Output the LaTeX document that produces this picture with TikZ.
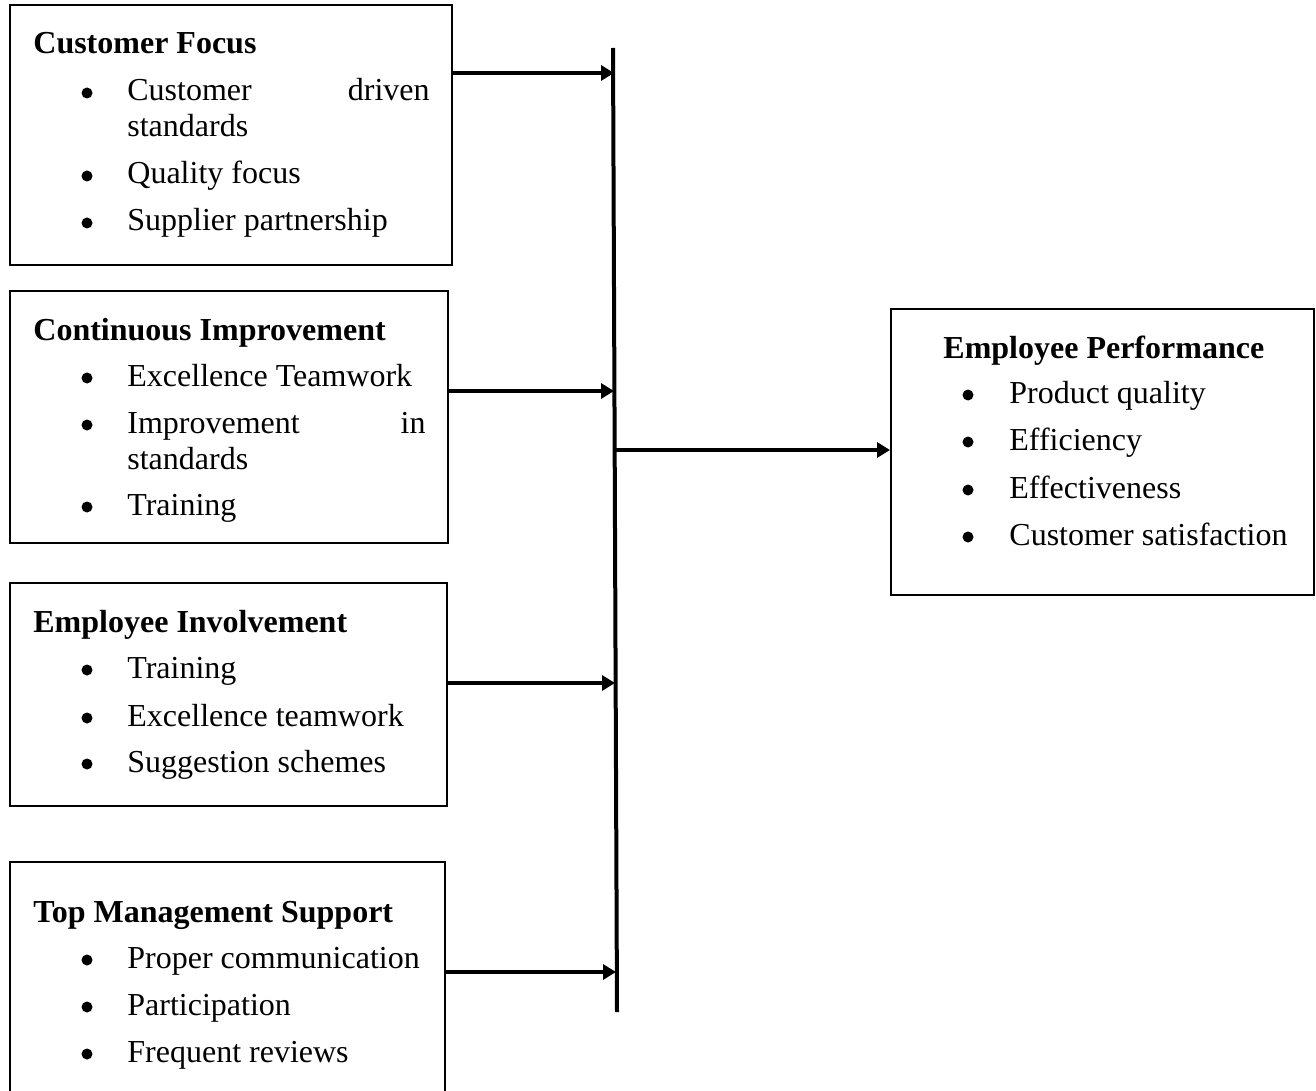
\documentclass[tikz,border=0pt]{standalone}
\usepackage{fontspec}
\setmainfont{Liberation Serif}
\usetikzlibrary{arrows.meta,fit}
\begin{document}
\begin{tikzpicture}[x=0.5pt,y=-0.5pt,
  box/.style={draw,line width=1pt,inner sep=0pt},
  ttl/.style={anchor=base west,inner sep=0pt,font=\fontsize{16}{19}\selectfont\bfseries},
  txt/.style={anchor=base west,inner sep=0pt,font=\fontsize{16}{19}\selectfont},
  txtr/.style={anchor=base east,inner sep=0pt,font=\fontsize{16}{19}\selectfont},
  dot/.style={circle,fill,inner sep=0pt,minimum size=5.5pt},
  bar/.style={line width=2pt},
  arr/.style={line width=2pt,-{Triangle[length=6.5pt,width=7.5pt]}}]
\useasboundingbox (0,0) rectangle (1316,1091);
\clip (0,0) rectangle (1316,1091);

% frames
\node[box,fit={(10,5) (452,265)}] (cf) {};
\node[box,fit={(10,291) (448,543)}] (ci) {};
\node[box,fit={(10,583) (447,806)}] (ei) {};
\node[box,fit={(10,862) (445,1120)}] (tm) {};
\node[box,fit={(891,309) (1314,595)}] (ep) {};

% Customer Focus
\node[ttl] (cft) at (33,54) {Customer Focus};
\node[dot] (cfd1) at (87,93) {};
\node[txt] (cf1a) at (127,101) {Customer};
\node[txtr] (cf1b) at (430,101) {driven};
\node[txt] (cf1c) at (127,137) {standards};
\node[dot] (cfd2) at (87,176) {};
\node[txt] (cf2) at (127,184) {Quality focus};
\node[dot] (cfd3) at (87,223) {};
\node[txt] (cf3) at (127,231) {Supplier partnership};

% Continuous Improvement
\node[ttl] (cit) at (33,340) {Continuous Improvement};
\node[dot] (cid1) at (87,378) {};
\node[txt] (ci1) at (127,386) {Excellence Teamwork};
\node[dot] (cid2) at (87,425) {};
\node[txt] (ci2a) at (127,433) {Improvement};
\node[txtr] (ci2b) at (426,433) {in};
\node[txt] (ci2c) at (127,469) {standards};
\node[dot] (cid3) at (87,507) {};
\node[txt] (ci3) at (127,515) {Training};

% Employee Involvement
\node[ttl] (eit) at (33,632) {Employee Involvement};
\node[dot] (eid1) at (87,670) {};
\node[txt] (ei1) at (127,678) {Training};
\node[dot] (eid2) at (87,718) {};
\node[txt] (ei2) at (127,726) {Excellence teamwork};
\node[dot] (eid3) at (87,764) {};
\node[txt] (ei3) at (127,772) {Suggestion schemes};

% Top Management Support
\node[ttl] (tmt) at (33,922) {Top Management Support};
\node[dot] (tmd1) at (87,960) {};
\node[txt] (tm1) at (127,968) {Proper communication};
\node[dot] (tmd2) at (87,1007) {};
\node[txt] (tm2) at (127,1015) {Participation};
\node[dot] (tmd3) at (87,1054) {};
\node[txt] (tm3) at (127,1062) {Frequent reviews};

% Employee Performance
\node[ttl] (ept) at (943,358) {Employee Performance};
\node[dot] (epd1) at (968,395) {};
\node[txt] (ep1) at (1009,403) {Product quality};
\node[dot] (epd2) at (968,442) {};
\node[txt] (ep2) at (1009,450) {Efficiency};
\node[dot] (epd3) at (968,490) {};
\node[txt] (ep3) at (1009,498) {Effectiveness};
\node[dot] (epd4) at (968,537) {};
\node[txt] (ep4) at (1009,545) {Customer satisfaction};

% collecting bar and connectors
\coordinate (bt) at (613,48);
\coordinate (bb) at (617,1012);
\draw[bar] (bt) -- (bb);
\coordinate (a1) at (614,73);
\coordinate (a2) at (614,391);
\coordinate (a3) at (615,683);
\coordinate (a4) at (616,972);
\coordinate (ao) at (615,450);
\draw[arr] (cf.east |- a1) -- (a1);
\draw[arr] (ci.east |- a2) -- (a2);
\draw[arr] (ei.east |- a3) -- (a3);
\draw[arr] (tm.east |- a4) -- (a4);
\draw[arr] (ao) -- (ep.west |- ao);
\end{tikzpicture}
\end{document}
